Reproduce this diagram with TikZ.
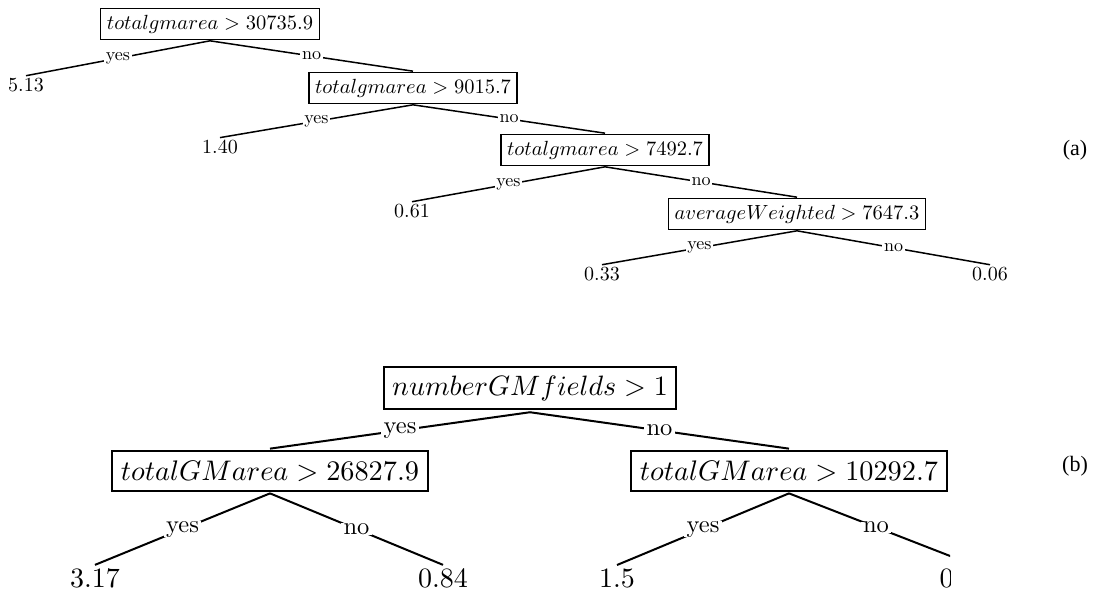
\documentclass[tikz,border=0pt]{standalone}
\usepackage{fontspec}
\newfontfamily\labfont{Liberation Serif}
\tikzset{
  abox/.style={draw, line width=1.3pt, scale=2.05, inner xsep=3pt, inner ysep=1pt, minimum height=15.1pt},
  aleaf/.style={inner sep=1pt, scale=2.0},
  alab/.style={fill=white, inner xsep=1pt, inner ysep=0pt, scale=1.8},
  aedge/.style={line width=1.5pt},
  bbox/.style={draw, line width=2pt, scale=2.83, inner xsep=3pt, inner ysep=1pt, minimum height=13.8pt},
  bleaf/.style={inner sep=1pt, scale=2.8},
  blab/.style={fill=white, inner xsep=1pt, inner ysep=0pt, scale=2.45},
  bedge/.style={line width=2pt},
  panel/.style={font=\labfont, scale=2.2}
}
\begin{document}
\begin{tikzpicture}[x=1pt, y=-1pt]
\useasboundingbox (0,0) rectangle (1094,594);
% ---------- (a) ----------
\node[abox] (a1) at (210,24) {$totalgmarea > 30735.9$};
\node[abox] (a2) at (413,88) {$totalgmarea > 9015.7$};
\node[abox] (a3) at (605,150) {$totalgmarea > 7492.7$};
\node[abox] (a4) at (797,214) {$averageWeighted > 7647.3$};
\node[aleaf] (l1) at (26,85) {5.13};
\node[aleaf] (l2) at (220,147) {1.40};
\node[aleaf] (l3) at (412,211) {0.61};
\node[aleaf] (l4) at (602,274) {0.33};
\node[aleaf] (l5) at (990,274) {0.06};
\draw[aedge] (a1.south) -- node[alab]{yes} (l1.north);
\draw[aedge] (a1.south) -- node[alab]{no} (a2.north);
\draw[aedge] (a2.south) -- node[alab]{yes} (l2.north);
\draw[aedge] (a2.south) -- node[alab]{no} (a3.north);
\draw[aedge] (a3.south) -- node[alab]{yes} (l3.north);
\draw[aedge] (a3.south) -- node[alab]{no} (a4.north);
\draw[aedge] (a4.south) -- node[alab]{yes} (l4.north);
\draw[aedge] (a4.south) -- node[alab]{no} (l5.north);
\node[panel] (pa) at (1075,150) {(a)};
% ---------- (b) ----------
\begin{scope}
\clip (0,330) rectangle (950,594);
\node[bbox, scale=0.99, minimum height=15.3pt] (b1) at (530,388) {$numberGMfields > 1$};
\node[bbox] (b2) at (270,471) {$totalGMarea > 26827.9$};
\node[bbox] (b3) at (789,471) {$totalGMarea > 10292.7$};
\node[bleaf] (m1) at (95,578) {3.17};
\node[bleaf] (m2) at (443,578) {0.84};
\node[bleaf] (m3) at (617,578) {1.5};
\node[bleaf, anchor=west, inner sep=0pt] (m4) at (939,578) {0};
\coordinate (m4top) at (963,561);
\draw[bedge] (b1.south) -- node[blab]{yes} (b2.north);
\draw[bedge] (b1.south) -- node[blab]{no} (b3.north);
\draw[bedge] (b2.south) -- node[blab]{yes} (m1.north);
\draw[bedge] (b2.south) -- node[blab]{no} (m2.north);
\draw[bedge] (b3.south) -- node[blab]{yes} (m3.north);
\draw[bedge] (b3.south) -- node[blab]{no} (m4top);
\end{scope}
\node[panel] (pb) at (1075,466) {(b)};
\end{tikzpicture}
\end{document}
